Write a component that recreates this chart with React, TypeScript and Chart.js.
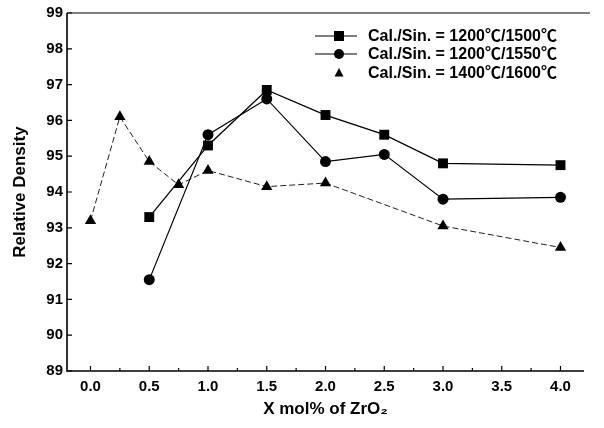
import React, { useEffect, useRef } from "react";
import { Chart, registerables } from "chart.js";

Chart.register(...registerables);

const xSquare = [0.5, 1.0, 1.5, 2.0, 2.5, 3.0, 4.0];
const ySquare = [93.3, 95.3, 96.85, 96.15, 95.6, 94.8, 94.75];
const xCircle = [0.5, 1.0, 1.5, 2.0, 2.5, 3.0, 4.0];
const yCircle = [91.55, 95.6, 96.6, 94.85, 95.05, 93.8, 93.85];
const xTri = [0.0, 0.25, 0.5, 0.75, 1.0, 1.5, 2.0, 3.0, 4.0];
const yTri = [93.2, 96.1, 94.85, 94.2, 94.6, 94.15, 94.25, 93.05, 92.45];
const legendLabels = [
  "Cal./Sin. = 1200\u2103/1500\u2103",
  "Cal./Sin. = 1200\u2103/1550\u2103",
  "Cal./Sin. = 1400\u2103/1600\u2103",
];
const xTicks = [0, 0.5, 1, 1.5, 2, 2.5, 3, 3.5, 4];
const yTicks = [89, 90, 91, 92, 93, 94, 95, 96, 97, 98, 99];

const FONT = "'Liberation Sans', Arial, sans-serif";
const LEGEND_FONT = "'Liberation Sans', 'Noto Sans CJK SC', sans-serif";

const framePlugin = {
  id: "frame",
  afterDraw(chart: any) {
    const { ctx, chartArea } = chart;
    const xs = chart.scales.x;
    const ys = chart.scales.y;
    ctx.save();
    ctx.strokeStyle = "#000";
    ctx.lineWidth = 1.6;
    ctx.beginPath();
    ctx.moveTo(chartArea.left, chartArea.top);
    ctx.lineTo(chartArea.left, chartArea.bottom);
    ctx.lineTo(chartArea.right, chartArea.bottom);
    ctx.stroke();
    ctx.lineWidth = 1.2;
    ctx.beginPath();
    ctx.moveTo(chartArea.left, chartArea.top);
    ctx.lineTo(chartArea.right + 6, chartArea.top);
    ctx.stroke();
    // inward ticks
    ctx.lineWidth = 1.2;
    ctx.beginPath();
    for (let v = 0; v <= 4.001; v += 0.25) {
      const px = xs.getPixelForValue(v);
      const major = Math.abs(v * 2 - Math.round(v * 2)) < 1e-6;
      ctx.moveTo(px, chartArea.bottom);
      ctx.lineTo(px, chartArea.bottom - (major ? 5 : 3));
    }
    for (const v of yTicks) {
      const py = ys.getPixelForValue(v);
      ctx.moveTo(chartArea.left, py);
      ctx.lineTo(chartArea.left + 5, py);
    }
    ctx.stroke();

    // legend
    const rows = [36, 54, 73];
    const ds = chart.data.datasets;
    ctx.font = `bold 16px ${LEGEND_FONT}`;
    ctx.textBaseline = "middle";
    ctx.fillStyle = "#000";
    for (let i = 0; i < 3; i++) {
      const y = rows[i];
      const cx = 339;
      if (i < 2) {
        ctx.lineWidth = 1.2;
        ctx.beginPath();
        ctx.moveTo(315, y);
        ctx.lineTo(357, y);
        ctx.stroke();
      }
      const style = ds[i].pointStyle;
      ctx.beginPath();
      if (style === "rect") {
        ctx.fillRect(cx - 5, y - 5, 10, 10);
      } else if (style === "circle") {
        ctx.arc(cx, y, 5, 0, Math.PI * 2);
        ctx.fill();
      } else {
        ctx.moveTo(cx, y - 5);
        ctx.lineTo(cx + 4.5, y + 3.5);
        ctx.lineTo(cx - 4.5, y + 3.5);
        ctx.closePath();
        ctx.fill();
      }
      ctx.fillText(legendLabels[i], 368, y + 1);
    }
    ctx.restore();
  },
};

export default function App() {
  const ref = useRef<HTMLCanvasElement>(null);
  useEffect(() => {
    if (!ref.current) return;
    const chart = new Chart(ref.current, {
      type: "scatter",
      data: {
        datasets: [
          {
            label: legendLabels[0],
            data: xSquare.map((x, i) => ({ x, y: ySquare[i] })),
            showLine: true,
            borderColor: "#000",
            backgroundColor: "#000",
            borderWidth: 1.3,
            pointStyle: "rect",
            pointRadius: 7,
            pointBorderWidth: 0,
          },
          {
            label: legendLabels[1],
            data: xCircle.map((x, i) => ({ x, y: yCircle[i] })),
            showLine: true,
            borderColor: "#000",
            backgroundColor: "#000",
            borderWidth: 1.1,
            pointStyle: "circle",
            pointRadius: 5.5,
            pointBorderWidth: 0,
          },
          {
            label: legendLabels[2],
            data: xTri.map((x, i) => ({ x, y: yTri[i] })),
            showLine: true,
            borderColor: "#222",
            backgroundColor: "#000",
            borderWidth: 1,
            borderDash: [6, 3],
            pointStyle: "triangle",
            pointRadius: 6.5,
            pointBorderWidth: 0,
          },
        ],
      },
      options: {
        animation: false,
        responsive: false,
        maintainAspectRatio: false,
        layout: { padding: { top: 12, right: 20, left: 0, bottom: 8 } },
        plugins: { legend: { display: false }, tooltip: { enabled: false } },
        scales: {
          x: {
            type: "linear",
            min: -0.2,
            max: 4.2,
            afterBuildTicks: (scale: any) => {
              scale.ticks = xTicks.map((v) => ({ value: v }));
            },
            afterFit: (scale: any) => {
              scale.height = 49;
            },
            grid: { display: false, drawTicks: false },
            border: { display: false },
            ticks: {
              color: "#000",
              padding: 7,
              font: { family: FONT, size: 15, weight: "bold" },
              callback: (v: any) => Number(v).toFixed(1),
            },
            title: {
              display: true,
              text: "X mol% of ZrO\u2082",
              color: "#000",
              padding: { top: 4, bottom: 0 },
              font: { family: FONT, size: 17, weight: "bold" },
            },
          },
          y: {
            type: "linear",
            min: 89,
            max: 99,
            afterBuildTicks: (scale: any) => {
              scale.ticks = yTicks.map((v) => ({ value: v }));
            },
            afterFit: (scale: any) => {
              scale.width = 67;
            },
            grid: { display: false, drawTicks: false },
            border: { display: false },
            ticks: {
              color: "#000",
              padding: 4,
              font: { family: FONT, size: 15, weight: "bold" },
            },
            title: {
              display: true,
              text: "Relative Density",
              color: "#000",
              padding: { top: 10, bottom: 2 },
              font: { family: FONT, size: 17, weight: "bold" },
            },
          },
        },
      },
      plugins: [framePlugin],
    } as any);
    return () => chart.destroy();
  }, []);
  return (
    <div style={{ position: "absolute", left: 0, top: 0, width: 604, height: 428, background: "#fff" }}>
      <canvas ref={ref} width={604} height={428} style={{ width: 604, height: 428 }} />
    </div>
  );
}
